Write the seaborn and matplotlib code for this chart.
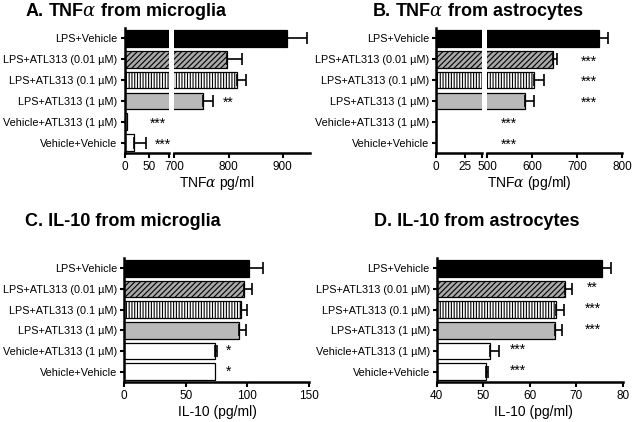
import numpy as np
import pandas as pd
import matplotlib
matplotlib.use('Agg')
import matplotlib.pyplot as plt
import seaborn as sns

groups = ['LPS+Vehicle', 'LPS+ATL313 (0.01 µM)', 'LPS+ATL313 (0.1 µM)',
          'LPS+ATL313 (1 µM)', 'Vehicle+ATL313 (1 µM)', 'Vehicle+Vehicle']

# A. TNFa microglia
tnf_mg = [907, 798, 815, 753, 6, 20]
tnf_mg_err = [37, 26, 17, 18, 0, 25]
tnf_mg_stars = ['', '', '', '**', '***', '***']
# B. TNFa astrocytes
tnf_as = [748, 646, 605, 585, 0, 0]
tnf_as_err = [21, 9, 21, 20, 0, 0]
tnf_as_stars = ['', '***', '***', '***', '***', '***']
# C. IL-10 microglia
il10_mg = [101.6, 97, 95, 93.5, 74, 74]
il10_mg_err = [11, 7, 5, 5.5, 1, 0]
il10_mg_stars = ['', '', '', '', '*', '*']
# D. IL-10 astrocytes
il10_as = [75.6, 67.6, 65.7, 65.4, 51.4, 50.5]
il10_as_err = [1.9, 1.4, 1.7, 1.5, 2.0, 0.5]
il10_as_stars = ['', '**', '***', '***', '***', '***']

fills = ['black', '#a9a9a9', 'white', '#b9b9b9', 'white', 'white']
hatches = [None, '//////', '||||||', None, None, None]

sns.set_style('ticks')
plt.rcParams['font.family'] = ['Liberation Sans', 'DejaVu Sans']
plt.rcParams['hatch.linewidth'] = 0.8
plt.rcParams['mathtext.fontset'] = 'dejavuserif'
for k in ['text.color', 'axes.labelcolor', 'xtick.color', 'ytick.color', 'axes.edgecolor']:
    plt.rcParams[k] = 'black'

W, H = 633, 422
fig = plt.figure(figsize=(W / 100, H / 100), dpi=100)


def box(x0, x1, ytop, ybot):
    return [x0 / W, 1 - ybot / H, (x1 - x0) / W, (ybot - ytop) / H]


def draw_bars(ax, vals, errs, xlim, show_labels=True, left_spine=True):
    df = pd.DataFrame({'group': groups, 'value': vals})
    sns.barplot(data=df, x='value', y='group', hue='group', palette=fills,
                order=groups, hue_order=groups, orient='h', width=0.8,
                edgecolor='black', linewidth=0.9, legend=False, ax=ax,
                errorbar=None)
    for p, h in zip(ax.patches, hatches):
        if h:
            p.set_hatch(h)
    e = np.array(errs, dtype=float)
    m = e > 0
    ax.errorbar(np.array(vals)[m], np.arange(6)[m],
                xerr=[np.zeros(m.sum()), e[m]], fmt='none', ecolor='black',
                elinewidth=1.2, capsize=4, capthick=1.2, zorder=1)
    ax.set_xlim(*xlim)
    ax.set_ylim(5.5, -0.5)
    ax.set_xlabel('')
    ax.set_ylabel('')
    sns.despine(ax=ax, left=not left_spine)
    for s in ['left', 'bottom']:
        ax.spines[s].set_linewidth(1.8)
    ax.tick_params(axis='x', width=1.5, length=3.5, labelsize=8.5, pad=2)
    ax.tick_params(axis='y', width=1.5, length=3, labelsize=7.8, pad=2)
    if not show_labels:
        ax.tick_params(axis='y', left=False, labelleft=False)


def stars(ax, labels, xs, dy=0.0):
    for i, (s, x) in enumerate(zip(labels, xs)):
        if s and x is not None:
            ax.text(x, i + dy, s, ha='center', va='center', fontsize=10)


# Panel A (broken axis)
axA1 = fig.add_axes(box(124.5, 169.3, 28, 153))
axA2 = fig.add_axes(box(174.3, 310, 28, 153))
draw_bars(axA1, tnf_mg, tnf_mg_err, (0, 92))
draw_bars(axA2, tnf_mg, tnf_mg_err, (700, 950), show_labels=False, left_spine=False)
axA1.set_xticks([0, 50, 92], ['0', '50', ''])
axA2.set_xticks([700, 800, 900])
stars(axA1, tnf_mg_stars, [None, None, None, None, 68, 78], dy=0.1)
stars(axA2, tnf_mg_stars, [None, None, None, 800, None, None], dy=0.1)

# Panel B (broken axis)
axB1 = fig.add_axes(box(436, 482, 28, 153))
axB2 = fig.add_axes(box(487, 622, 28, 153))
draw_bars(axB1, tnf_as, tnf_as_err, (0, 40))
draw_bars(axB2, tnf_as, tnf_as_err, (500, 800), show_labels=False, left_spine=False)
axB1.set_xticks([0, 25, 40], ['0', '25', ''])
axB2.set_xticks([500, 600, 700, 800])
stars(axB2, tnf_as_stars, [None, 727, 727, 727, 549, 549], dy=0.1)

# Panel C
axC = fig.add_axes(box(124, 309, 258, 382))
draw_bars(axC, il10_mg, il10_mg_err, (0, 150))
axC.set_xticks([0, 50, 100, 150])
stars(axC, il10_mg_stars, [None, None, None, None, 84.6, 84.6], dy=0.0)

# Panel D
axD = fig.add_axes(box(436.7, 622.7, 258, 382))
draw_bars(axD, il10_as, il10_as_err, (40, 80))
axD.set_xticks([40, 50, 60, 70, 80])
stars(axD, il10_as_stars, [None, 73.5, 73.5, 73.5, 57.4, 57.4], dy=-0.05)

# titles and axis labels
tkw = dict(fontsize=13, fontweight='bold', va='center')
fig.text(25 / W, 1 - 11 / H, r'A. TNF$\alpha$ from microglia', ha='left', **tkw)
fig.text(478 / W, 1 - 11 / H, r'B. TNF$\alpha$ from astrocytes', ha='center', **tkw)
fig.text(25 / W, 1 - 221 / H, 'C. IL-10 from microglia', ha='left', **tkw)
fig.text(477 / W, 1 - 222 / H, 'D. IL-10 from astrocytes', ha='center', **tkw)

lkw = dict(fontsize=10, ha='center', va='center')
fig.text(217 / W, 1 - 183 / H, r'TNF$\alpha$ pg/ml', **lkw)
fig.text(529 / W, 1 - 183 / H, r'TNF$\alpha$ (pg/ml)', **lkw)
fig.text(217 / W, 1 - 412 / H, 'IL-10 (pg/ml)', **lkw)
fig.text(533 / W, 1 - 412 / H, 'IL-10 (pg/ml)', **lkw)

fig.savefig('out.png', dpi=100)
